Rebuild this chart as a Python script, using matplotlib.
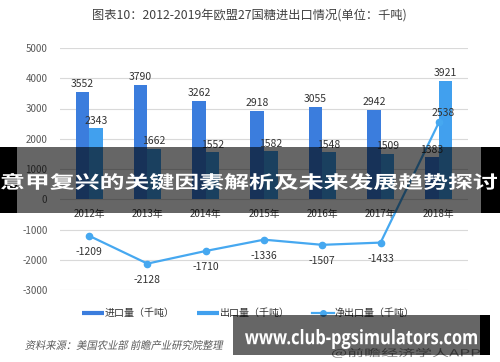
import matplotlib
matplotlib.use('Agg')
import matplotlib.pyplot as plt
import numpy as np
from matplotlib.lines import Line2D
from matplotlib.patches import Rectangle, PathPatch
from matplotlib.textpath import TextPath
from matplotlib.font_manager import FontProperties
from matplotlib.transforms import Affine2D

plt.rcParams['font.family'] = ['Noto Sans CJK SC', 'DejaVu Sans']

years = ['2012年', '2013年', '2014年', '2015年', '2016年', '2017年', '2018年']
imports = [3552, 3790, 3262, 2918, 3055, 2942, 1383]
exports = [2343, 1662, 1552, 1582, 1548, 1509, 3921]
net = [-1209, -2128, -1710, -1336, -1507, -1433, 2538]
yticks = [-3000, -2000, -1000, 0, 1000, 2000, 3000, 4000, 5000]
legend_labels = ['进口量（千吨）', '出口量（千吨）', '净出口量（千吨）']
title = '图表10：2012-2019年欧盟27国糖进出口情况(单位：千吨)'
source = '资料来源：美国农业部 前瞻产业研究院整理'
credit = '@前瞻经济学人APP'
banner = '意甲复兴的关键因素解析及未来发展趋势探讨'
site = 'www.club-pgsimulators.com'

W, H = 500, 362
fig = plt.figure(figsize=(W / 100, H / 100), dpi=100)
ax = fig.add_axes([60 / W, 1 - 290 / H, 408 / W, 242 / H])

x = np.arange(len(years))
bw = 0.232
c_imp, c_exp, c_net = '#3B7DDD', '#41A0EE', '#46A8F0'
ax.bar(x - bw / 2, imports, bw, color=c_imp, zorder=2)
ax.bar(x + bw / 2, exports, bw, color=c_exp, zorder=2)
ax.plot(x, net, color=c_net, lw=1.6, marker='o', ms=4.5, zorder=3)

ax.set_xlim(-0.5, len(years) - 0.5)
ax.set_ylim(-3000, 5000)
ax.set_yticks(yticks)
ax.set_yticklabels([str(v) for v in yticks])
ax.grid(axis='y', color='#d9d9d9', lw=0.8, zorder=0)
for s in ax.spines.values():
    s.set_visible(False)
ax.spines['bottom'].set_position(('data', 0))
ax.set_xticks(x)
ax.set_xticklabels(years)
ax.tick_params(axis='x', length=0, pad=7, labelsize=7, labelcolor='#333333')
ax.tick_params(axis='y', length=0, pad=9, labelsize=7, labelcolor='#595959')

lab_kw = dict(textcoords='offset points', ha='center', fontsize=7.5, color='#333333', zorder=4)
for xi, v in zip(x, imports):
    ax.annotate(str(v), (xi - bw / 2, v), xytext=(0, 2), va='bottom', **lab_kw)
for xi, v in zip(x, exports):
    ax.annotate(str(v), (xi + bw / 2, v), xytext=(0, 2), va='bottom', **lab_kw)
for xi, v in zip(x, net):
    if v < 0:
        ax.annotate(str(v), (xi, v), xytext=(0, -8), va='top', **lab_kw)
    else:
        ax.annotate(str(v), (xi, v), xytext=(3, 3), va='bottom', **lab_kw)

handles = [Line2D([], [], color=c_imp, lw=3, solid_capstyle='butt'),
           Line2D([], [], color=c_exp, lw=3, solid_capstyle='butt'),
           Line2D([], [], color=c_net, lw=1.6, marker='o', ms=4)]
fig.legend(handles, legend_labels, loc='center', bbox_to_anchor=(248 / W, 1 - 313 / H),
           ncol=3, frameon=False, fontsize=7.2, handlelength=2.2, handletextpad=0.1,
           columnspacing=2.2, labelcolor='#333333')

fig.text(249 / W, 1 - 15 / H, title, ha='center', va='center', fontsize=8.8, color='#404040')

px2fig = Affine2D().scale(1 / W, 1 / H) + fig.transFigure


def fit_text(s, x0, x1, ytop, ybot, family, weight='normal', color='white',
             shear=0.0, uniform=False, zorder=20):
    fp = FontProperties(family=family, weight=weight)
    tp = TextPath((0, 0), s, size=20, prop=fp)
    ext = tp.get_extents()
    sx = (x1 - x0) / ext.width
    sy = (ybot - ytop) / ext.height
    if uniform:
        sy = sx
    tr = (Affine2D().translate(-ext.x0, -ext.y0).scale(sx, sy)
          .skew_deg(shear, 0).translate(x0, H - ybot))
    patch = PathPatch(tr.transform_path(tp), facecolor=color, edgecolor='none',
                      transform=px2fig, zorder=zorder)
    fig.add_artist(patch)


# source and credit lines
fit_text(source, 25, 222, 340, 350, 'Noto Sans CJK SC', color='#595959', shear=12, zorder=5)
fit_text(credit, 332, 480, 348, 358, 'Noto Sans CJK SC', color='#7f7f7f', zorder=5)

# banner overlay
fig.add_artist(Rectangle((17 / W, 1 - 213 / H), 464 / W, 66 / H, transform=fig.transFigure,
                         facecolor='black', alpha=0.6, edgecolor='none', zorder=10))
fig.add_artist(Rectangle((0, 1 - 213 / H), 17 / W, 66 / H, transform=fig.transFigure,
                         facecolor='black', edgecolor='none', zorder=10))
fig.add_artist(Rectangle((481 / W, 1 - 213 / H), 19 / W, 66 / H, transform=fig.transFigure,
                         facecolor='black', edgecolor='none', zorder=10))
fit_text(banner, 1, 497, 173, 190, 'Noto Sans CJK SC', weight='bold')

# bottom site box
fig.add_artist(Rectangle((233 / W, 1 - 355 / H), 247 / W, 40 / H, transform=fig.transFigure,
                         facecolor='black', alpha=0.6, edgecolor='none', zorder=10))
fig.add_artist(Rectangle((480 / W, 1 - 355 / H), 10 / W, 40 / H, transform=fig.transFigure,
                         facecolor='black', edgecolor='none', zorder=10))
fit_text(site, 245, 477, 329, 349, 'Open Sans', weight='bold')

fig.savefig('out.png', dpi=100)
